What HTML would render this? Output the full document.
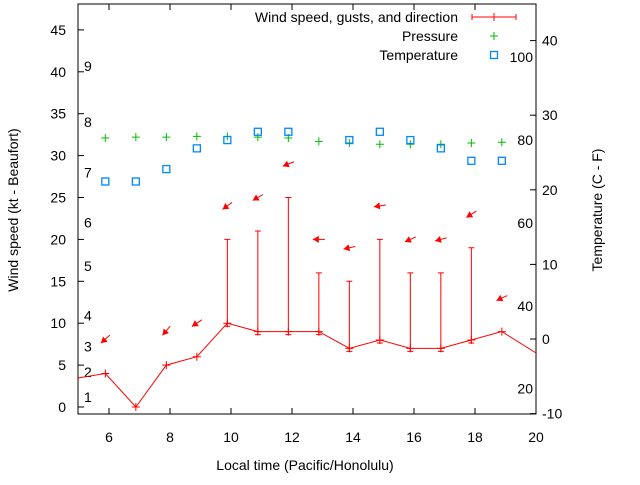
<!DOCTYPE html>
<html><head><meta charset="utf-8"><style>
body{margin:0;background:#fff}
svg text{font-family:"Liberation Sans",sans-serif;font-size:14px;fill:#000}
</style></head><body>
<svg id="chart" width="640" height="480" xmlns="http://www.w3.org/2000/svg"></svg>
<script>
const hours=[4.88,5.88,6.88,7.88,8.88,9.88,10.88,11.88,12.88,13.88,14.88,15.88,16.88,17.88,18.88,20.2];
const windKt=[3.4,4,0,5,6,10,9,9,9,7,8,7,7,8,9,6.0];
const gustKt=[null,null,null,null,null,20,21,25,16,15,20,16,16,19,null,null];
const arrowY=[null,8.1,null,9.1,10,24,25,29,20,19,24,20,20,23,13,null];
const windDir=[null,48,null,40,56,54,60,68,90,78,82,66,75,58,65,null];
const pressureY=[null,32.1,32.2,32.2,32.3,32.3,32.2,32.1,31.7,31.5,31.35,31.35,31.35,31.5,31.6,null];
const tempF=[null,70,70,73,78,80,82,82,null,80,82,80,78,75,75,null];
const xTicks=[6,8,10,12,14,16,18,20];
const yTicks=[0,5,10,15,20,25,30,35,40,45];
const y2Ticks=[-10,0,10,20,30,40];
const beaufort=[[1,1],[2,2],[3,3],[4,4],[5,5],[6,6],[7,7],[8,8],[9,9]];
const bfY=[null,1.2,4.2,7.2,10.9,16.8,22,28,34,40.7];
const fLabels=[20,40,60,80,100];

const L=78,R=536,T=4,B=414;
const X=v=>109+(v-6)*30.5;
const Y=v=>407-v*8.38;
const Y2=c=>339-c*7.46;
const svg=document.getElementById('chart');
const NS='http://www.w3.org/2000/svg';
function mk(tag,attrs,name,txt){const e=document.createElementNS(NS,tag);for(const k in attrs)e.setAttribute(k,attrs[k]);


if(txt!==undefined)e.textContent=txt;svg.appendChild(e);return e;}
const clip=document.createElementNS(NS,'clipPath');clip.setAttribute('id','pc');
const cr=document.createElementNS(NS,'rect');cr.setAttribute('x',L);cr.setAttribute('y',T);cr.setAttribute('width',R-L);cr.setAttribute('height',B-T);clip.appendChild(cr);svg.appendChild(clip);

mk('rect',{x:L,y:T,width:R-L,height:B-T,fill:'none',stroke:'#000','stroke-width':1},'plot-frame');
xTicks.forEach(t=>{const x=X(t);
 mk('line',{x1:x,y1:B,x2:x,y2:B-6,stroke:'#000'},'x-tick');
 mk('line',{x1:x,y1:T,x2:x,y2:T+6,stroke:'#000'},'x-tick-top');
 mk('text',{x:x,y:442,'text-anchor':'middle'},'x-tick-label',t);});
yTicks.forEach(t=>{const y=Y(t);
 mk('line',{x1:L,y1:y,x2:L+6,y2:y,stroke:'#000'},'y-tick');
 mk('text',{x:66,y:y+5,'text-anchor':'end'},'y-tick-label',t);});
y2Ticks.forEach(t=>{const y=Y2(t);
 mk('line',{x1:R,y1:y,x2:R-6,y2:y,stroke:'#000'},'y2-tick');
 mk('text',{x:542,y:y+5,'text-anchor':'start'},'y2-tick-label',t);});
beaufort.forEach(b=>{mk('text',{x:84,y:Y(bfY[b[0]])+5},'beaufort-label',b[1]);});
fLabels.forEach(f=>{mk('text',{x:533,y:Y2((f-32)*5/9)+5,'text-anchor':'end'},'fahrenheit-label',f);});
mk('text',{x:305,y:470,'text-anchor':'middle'},'x-axis-title','Local time (Pacific/Honolulu)');
mk('text',{x:0,y:0,'text-anchor':'middle',transform:'translate(18,210) rotate(-90)'},'y-axis-title','Wind speed (kt - Beaufort)');
mk('text',{x:0,y:0,'text-anchor':'middle',transform:'translate(602,210) rotate(-90)'},'y2-axis-title','Temperature (C - F)');

const g=document.createElementNS(NS,'g');g.setAttribute('clip-path','url(#pc)');svg.appendChild(g);
function gk(tag,attrs,name){const e=mk(tag,attrs,name);g.appendChild(e);return e;}
gk('polyline',{points:hours.map((h,i)=>X(h)+','+Y(windKt[i])).join(' '),fill:'none',stroke:'#f00','stroke-width':1},'wind-line');
hours.forEach((h,i)=>{const x=X(h),y=Y(windKt[i]);
 gk('path',{d:`M${x-4},${y}H${x+4}M${x},${y-4}V${y+4}`,stroke:'#f00'},'wind-point');
 if(gustKt[i]!=null){const gy=Y(gustKt[i]);
  gk('path',{d:`M${x},${y+3}V${gy}M${x-3},${gy}H${x+3}M${x-3},${y+3}H${x+3}`,stroke:'#f00',fill:'none'},'gust-bar');}
 if(arrowY[i]!=null){const cy=Y(arrowY[i]),r=windDir[i]*Math.PI/180,dx=-Math.sin(r),dy=Math.cos(r),len=6;
  const hx=x+dx*len,hy=cy+dy*len,tx=x-dx*len,ty=cy-dy*len;
  gk('line',{x1:tx,y1:ty,x2:hx,y2:hy,stroke:'#f00'},'wind-arrow');
  const px=-dy,py=dx;
  gk('polygon',{points:`${hx},${hy} ${hx-dx*6+px*3.5},${hy-dy*6+py*3.5} ${hx-dx*6-px*3.5},${hy-dy*6-py*3.5}`,fill:'#f00'},'wind-arrow-head');}
 if(pressureY[i]!=null){const py=Y(pressureY[i]);
  gk('path',{d:`M${x-4},${py}H${x+4}M${x},${py-4}V${py+4}`,stroke:'#0b0'},'pressure-point');}
 if(tempF[i]!=null){const ty=Y2((tempF[i]-32)*5/9);
  gk('rect',{x:x-3.5,y:ty-3.5,width:7,height:7,fill:'none',stroke:'#08f','stroke-width':1.3},'temperature-point');}
});
mk('text',{x:458,y:22,'text-anchor':'end'},'legend-wind-label','Wind speed, gusts, and direction');
mk('path',{d:'M472,17H516M472,14V20M516,14V20M494,13V21',stroke:'#f00'},'legend-wind-symbol');
mk('text',{x:458,y:41,'text-anchor':'end'},'legend-pressure-label','Pressure');
mk('path',{d:'M490,36H498M494,32V40',stroke:'#0b0'},'legend-pressure-symbol');
mk('text',{x:458,y:60,'text-anchor':'end'},'legend-temperature-label','Temperature');
mk('rect',{x:490.5,y:51.5,width:7,height:7,fill:'none',stroke:'#08f','stroke-width':1.3},'legend-temperature-symbol');
</script>
</body></html>
